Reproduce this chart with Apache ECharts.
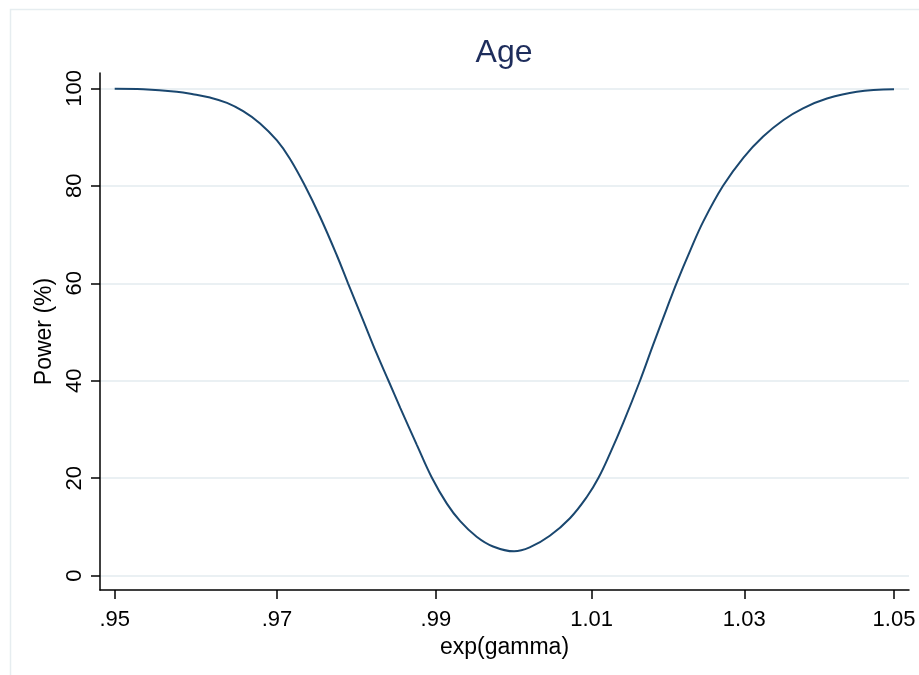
<!DOCTYPE html>
<html>
<head>
<meta charset="utf-8">
<script src="https://cdn.jsdelivr.net/npm/echarts@6/dist/echarts.min.js"></script>
<style>
  html, body { margin: 0; padding: 0; background: #ffffff; }
  #chart { width: 919px; height: 675px; }
</style>
</head>
<body>
<div id="chart"></div>
<script>
// Power curve for the Age coefficient, plotted against exp(gamma) on a log axis
const expGamma = [
  0.9500, 0.9535, 0.9576, 0.9596, 0.9617, 0.9638, 0.9658, 0.9679, 0.9700, 0.9716,
  0.9735, 0.9754, 0.9775, 0.9789, 0.9808, 0.9825, 0.9840, 0.9855, 0.9876, 0.9895,
  0.9914, 0.9931, 0.9952, 0.9973, 1.0000, 1.0020, 1.0046, 1.0072, 1.0094, 1.0109,
  1.0124, 1.0141, 1.0163, 1.0180, 1.0198, 1.0211, 1.0229, 1.0246, 1.0272, 1.0299,
  1.0325, 1.0352, 1.0378, 1.0410, 1.0450, 1.0500
];
const powerPct = [
  99.9, 99.8, 99.3, 98.8, 98.1, 97.0, 95.3, 92.8, 89.3, 85.6,
  80.0, 73.6, 65.7, 60.0, 52.4, 45.6, 40.0, 34.4, 26.8, 20.1,
  14.8, 11.2, 8.0, 6.0, 5.0, 5.8, 8.2, 11.8, 16.2, 20.1,
  25.1, 31.3, 40.0, 47.3, 54.8, 60.1, 66.8, 72.7, 80.0, 85.8,
  90.1, 93.5, 95.9, 97.9, 99.3, 99.8
];

const xTickValues = [0.95, 0.97, 0.99, 1.01, 1.03, 1.05];
const xTickLabels = ['.95', '.97', '.99', '1.01', '1.03', '1.05'];
const yTickValues = [0, 20, 40, 60, 80, 100];

// horizontal axis runs in gamma = ln(exp(gamma)), labelled in exp(gamma)
const xRangeGamma = [-0.053181, 0.050716];
const yRange = [-2.93, 103.14];

const FONT = '"Liberation Sans", Arial, Helvetica, sans-serif';
const lnTicks = xTickValues.map(v => Math.log(v));

function xLabel(val) {
  let best = 0, bestD = Infinity;
  lnTicks.forEach((t, i) => { const d = Math.abs(t - val); if (d < bestD) { bestD = d; best = i; } });
  return xTickLabels[best];
}

const chart = echarts.init(document.getElementById('chart'), null, { renderer: 'canvas' });

chart.setOption({
  backgroundColor: '#ffffff',
  animation: false,
  title: {
    text: 'Age',
    left: 499,
    textAlign: 'center',
    top: 32,
    textStyle: { fontFamily: FONT, fontSize: 32, fontWeight: 'normal', color: '#1e2d5c' }
  },
  graphic: [{
    type: 'rect',
    shape: { x: 10.5, y: 9.5, width: 930, height: 700 },
    style: { fill: 'none', stroke: '#e6edf0', lineWidth: 1.5 },
    silent: true,
    z: -1
  }],
  grid: { left: 100, right: 10, top: 73, bottom: 85, containLabel: false },
  xAxis: {
    type: 'value',
    min: xRangeGamma[0],
    max: xRangeGamma[1],
    name: 'exp(gamma)',
    nameLocation: 'middle',
    nameGap: 36,
    nameTextStyle: { fontFamily: FONT, fontSize: 23, color: '#000000' },
    axisLine: { show: true, onZero: false, lineStyle: { color: '#000000', width: 1.5 } },
    axisTick: { show: true, length: 9, customValues: lnTicks, lineStyle: { color: '#000000', width: 1.5 } },
    axisLabel: {
      show: true, customValues: lnTicks, margin: 19,
      fontFamily: FONT, fontSize: 22, color: '#000000',
      formatter: xLabel
    },
    splitLine: { show: false }
  },
  yAxis: {
    type: 'value',
    min: yRange[0],
    max: yRange[1],
    name: 'Power (%)',
    nameLocation: 'middle',
    nameGap: 37,
    nameTextStyle: { fontFamily: FONT, fontSize: 23, color: '#000000' },
    axisLine: { show: true, onZero: false, lineStyle: { color: '#000000', width: 1.5 } },
    axisTick: { show: true, length: 9, customValues: yTickValues, lineStyle: { color: '#000000', width: 1.5 } },
    axisLabel: {
      show: true, customValues: yTickValues, rotate: 90, margin: 14,
      fontFamily: FONT, fontSize: 22, color: '#000000',
      formatter: v => String(Math.round(v))
    },
    splitLine: { show: true, lineStyle: { color: '#eaf0f3', width: 2 } }
  },
  series: [{
    type: 'line',
    data: expGamma.map((g, i) => [Math.log(g), powerPct[i]]),
    smooth: 0.4,
    showSymbol: false,
    symbol: 'none',
    lineStyle: { color: '#1a476f', width: 2 },
    clip: true
  }]
});
</script>
</body>
</html>
